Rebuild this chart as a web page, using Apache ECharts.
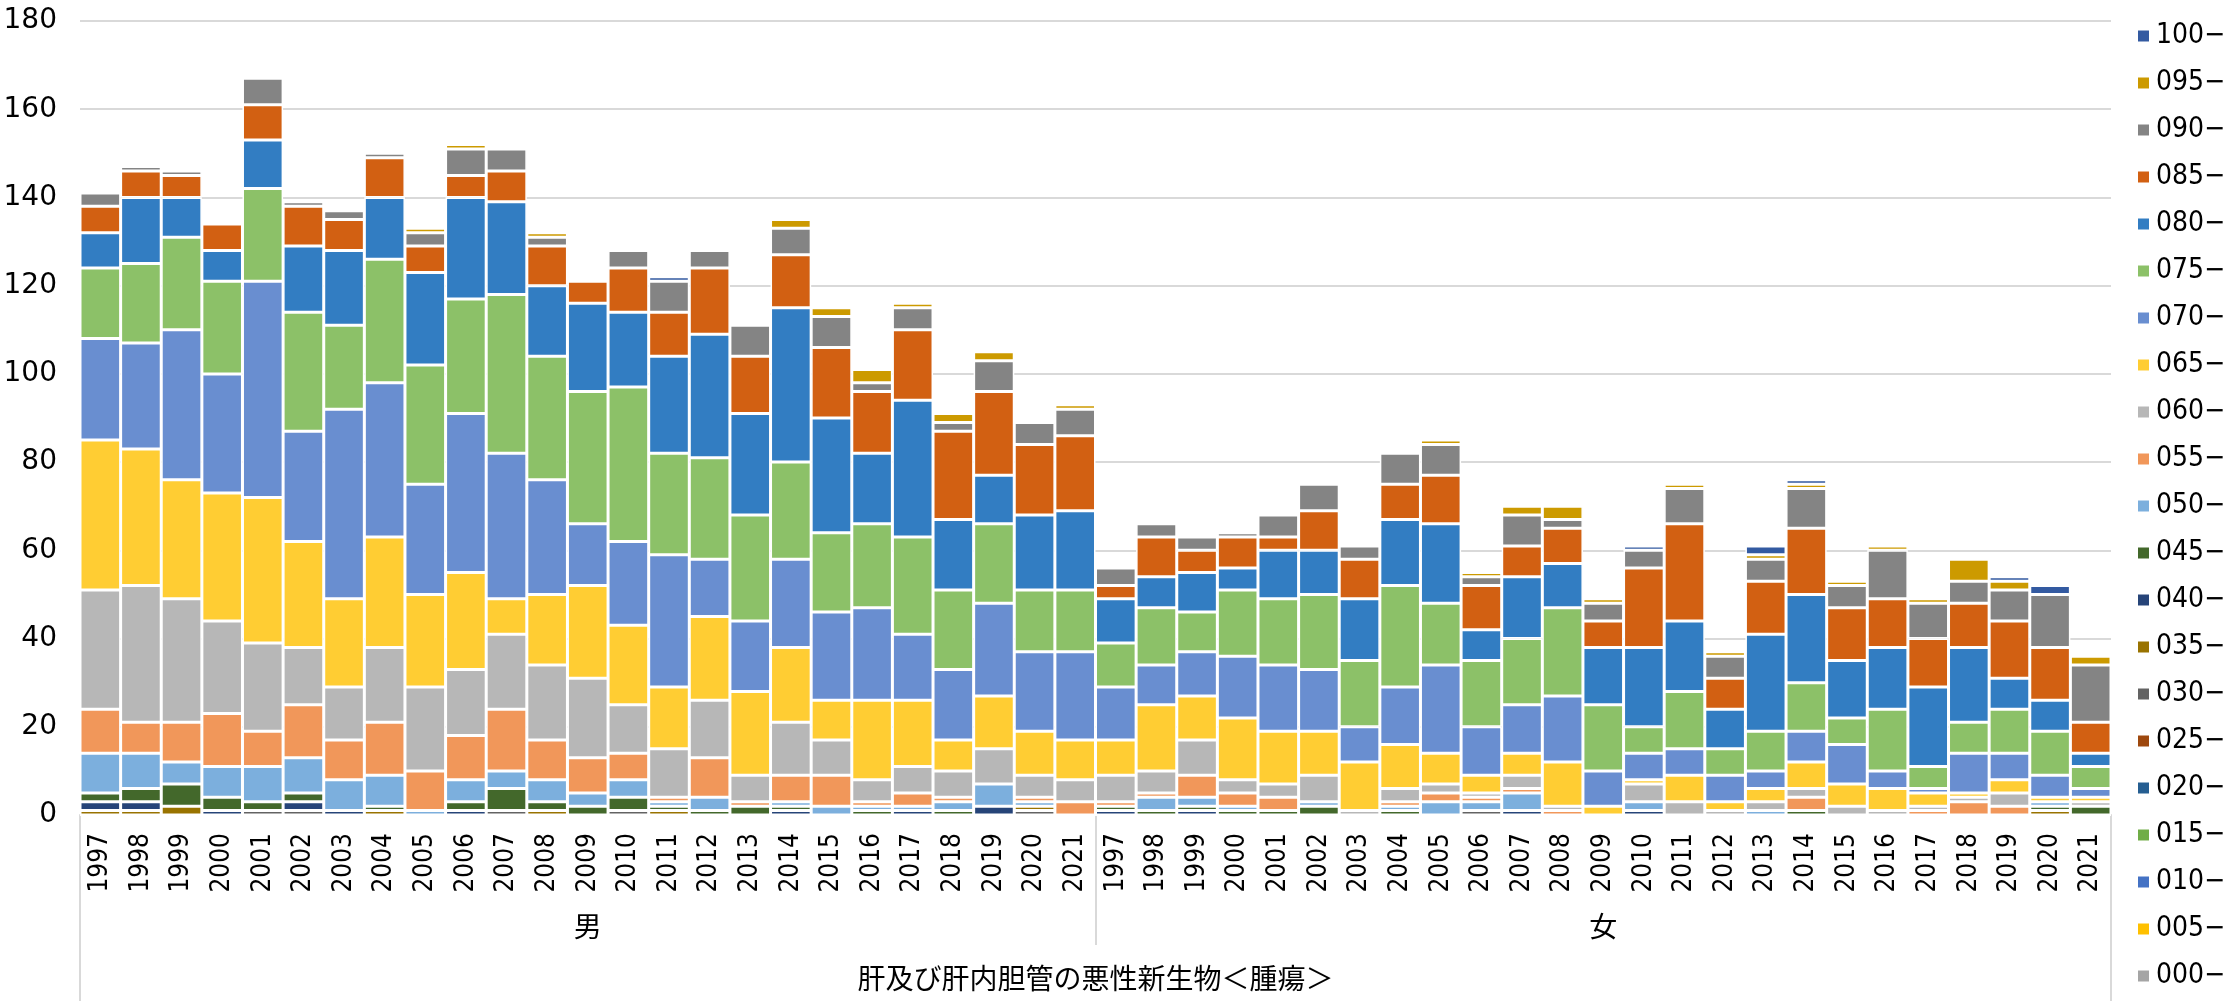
<!DOCTYPE html>
<html>
<head>
<meta charset="utf-8">
<script src="https://cdn.jsdelivr.net/npm/echarts@6/dist/echarts.min.js"></script>
<style>
  html, body { margin: 0; padding: 0; background: #fff; }
  #chart { width: 2223px; height: 1001px; }
</style>
</head>
<body>
<div id="chart"></div>
<script>
const years = ['1997','1998','1999','2000','2001','2002','2003','2004','2005','2006','2007','2008','2009',
  '2010','2011','2012','2013','2014','2015','2016','2017','2018','2019','2020','2021'];
const groups = ['男', '女'];
const diseaseName = '肝及び肝内胆管の悪性新生物＜腫瘍＞';
const ageGroups = ['000−','005−','010−','015−','020−','025−','030−','035−','040−','045−','050−',
  '055−','060−','065−','070−','075−','080−','085−','090−','095−','100−'];
const colors = ['#A5A5A5','#FFC000','#4472C4','#70AD47','#255E91','#9E480E','#636363','#997300','#264478','#43682B','#7CAFDD',
  '#F1975A','#B7B7B7','#FFCD33','#698ED0','#8CC168','#327DC2','#D26012','#848484','#CC9A00','#335AA1'];

// each array: 男 1997-2021, then 女 1997-2021
const s000 = [0,0,0,0,0,0,0,0,0,0,0,0,0,0,0,0,0,0,0,0,0,0,0,0,0, 0,0,0,0,0,0,0,0,0,0,0,0,0,0,0,0,0,0,0,0,0,0,0,0,0];
const s005 = [0,0,0,0,0,0,0,0,0,0,0,0,0,0,0,0,0,0,0,0,0,0,0,0,0, 0,0,0,0,0,0,0,0,0,0,0,0,0,0,0,0,0,0,0,0,0,0,0,0,0];
const s010 = [0,0,0,0,0,0,0,0,0,0,0,0,0,0,0,0,0,0,0,0,0,0,0,0,0, 0,0,0,0,0,0,0,0,0,0,0,0,0,0,0,0,0,0,0,0,0,0,0,0,0];
const s015 = [0,0,0,0,0,0,0,0,0,0,0,0,0,0,0,0,0,0,0,0,0,0,0,0,0, 0,0,0,0,0,0,0,0,0,0,0,0,0,0,0,0,0,0,0,0,0,0,0,0,0];
const s020 = [0,0,0,0,0,0,0,0,0,0,0,0,0,0,0,0,0,0,0,0,0,0,0,0,0, 0,0,0,0,0,0,0,0,0,0,0,0,0,0,0,0,0,0,0,0,0,0,0,0,0];
const s025 = [0,0,0,0,0,0,0,0,0,0,0,0,0,0,0,0,0,0,0,0,0,0,0,0,0, 0,0,0,0,0,0,0,0,0,0,0,0,0,0,0,0,0,0,0,0,0,0,0,0,0];
const s030 = [0,0,0,0,1,1,0,0,0,0,1,0,0,1,0,0,0,0,0,0,0,0,0,1,0, 0,0,0,0,0,0,0,0,0,1,0,0,0,0,0,0,0,0,0,0,0,0,0,0,0];
const s035 = [1,1,2,0,0,0,0,1,0,0,0,1,0,0,1,0,0,0,0,0,0,0,0,1,0, 0,0,0,0,0,0,0,0,0,0,0,0,0,0,0,0,0,0,0,0,0,0,0,1,0];
const s040 = [2,2,0,1,0,2,1,0,0,1,0,0,0,0,0,0,0,1,0,0,1,0,2,0,0, 1,0,1,0,0,0,0,0,0,0,1,0,0,1,0,0,0,0,0,0,0,0,0,0,0];
const s045 = [2,3,5,3,2,2,0,1,0,2,5,2,2,3,1,1,2,1,0,1,0,1,0,0,0, 1,1,1,1,1,2,0,1,0,0,0,0,0,0,0,0,0,1,0,0,0,0,0,1,2];
const s050 = [9,8,5,7,8,8,7,7,1,5,4,5,3,4,1,3,0,1,2,1,1,2,5,1,0, 0,3,2,1,0,1,0,1,3,2,4,0,0,2,0,0,1,0,0,0,0,0,0,1,0];
const s055 = [10,7,9,12,8,12,9,12,9,10,14,9,8,6,1,9,1,6,7,1,3,1,0,1,3, 1,1,5,3,3,0,0,1,2,1,1,1,0,0,0,0,0,3,0,0,1,3,2,0,0];
const s060 = [27,31,28,21,20,13,12,17,19,15,17,17,18,11,11,13,6,12,8,5,6,6,8,5,5, 6,5,8,3,3,6,1,3,2,1,3,1,0,4,3,1,2,2,2,1,1,1,3,0,1];
const s065 = [34,31,27,29,33,24,20,25,21,22,8,16,21,18,14,19,19,17,9,18,15,7,12,10,9, 8,15,10,14,12,10,11,10,7,4,5,10,2,1,6,2,3,6,5,5,3,1,3,1,1];
const s070 = [23,24,34,27,49,25,43,35,25,36,33,26,14,19,30,13,16,20,20,21,15,16,21,18,20, 12,9,10,14,15,14,8,13,20,11,11,15,8,6,6,6,4,7,9,4,1,9,6,5,2];
const s075 = [16,18,21,21,21,27,19,28,27,26,36,28,30,35,23,23,24,22,18,19,22,18,18,14,14, 10,13,9,15,15,17,15,23,14,15,15,20,15,6,13,6,9,11,6,14,5,7,10,10,5];
const s080 = [8,15,9,7,11,15,17,14,21,23,21,16,20,17,22,28,23,35,26,16,31,16,11,17,18, 10,7,9,5,11,10,14,15,18,7,14,10,13,18,16,9,22,20,13,14,18,17,7,7,3];
const s085 = [6,6,5,6,8,9,7,9,6,5,7,9,5,10,10,15,13,12,16,14,16,20,19,16,17, 3,9,5,7,3,9,9,8,11,10,7,8,6,18,22,7,12,15,12,11,11,10,13,12,7];
const s090 = [3,1,1,0,6,1,2,1,3,6,5,2,0,4,7,4,7,6,7,2,5,2,7,5,6, 4,3,3,1,5,6,3,7,7,2,7,2,4,4,8,5,5,9,5,11,8,5,7,12,13];
const s095 = [0,0,0,0,0,0,0,0,1,1,0,1,0,0,0,0,0,2,2,3,1,2,2,0,1, 0,0,0,0,0,0,0,0,1,1,2,3,1,0,1,1,1,1,1,1,1,5,2,0,2];
const s100 = [0,0,0,0,0,0,0,0,0,0,0,0,0,0,1,0,0,0,0,0,0,0,0,0,0, 0,0,0,0,0,0,0,0,0,0,0,0,0,1,0,0,2,1,0,0,0,0,1,2,0];

const seriesData = [s000,s005,s010,s015,s020,s025,s030,s035,s040,s045,s050,
  s055,s060,s065,s070,s075,s080,s085,s090,s095,s100];
const categories = years.concat(years);

const narrow = "'Liberation Sans Narrow', 'DejaVu Sans Condensed', sans-serif";
const cjk = "'Noto Sans CJK JP', sans-serif";
const lineGray = '#D9D9D9';

const chart = echarts.init(document.getElementById('chart'));

chart.setOption({
  animation: false,
  color: colors,
  grid: { left: 80, right: 112, top: 21, bottom: 186, containLabel: false },
  legend: {
    orient: 'vertical',
    left: 2133,
    top: 16,
    itemWidth: 11,
    itemHeight: 11,
    itemGap: 17,
    icon: 'rect',
    itemStyle: { borderWidth: 0 },
    data: ageGroups.slice().reverse(),
    textStyle: { fontFamily: narrow, fontSize: 28, lineHeight: 30, color: '#000', padding: [0, 0, 0, 2] }
  },
  xAxis: [
    {
      type: 'category',
      data: categories,
      axisLine: { lineStyle: { color: lineGray, width: 2 } },
      axisTick: { show: false },
      axisLabel: { interval: 0, rotate: 90, margin: 18, fontFamily: narrow, fontSize: 26, color: '#000' }
    },
    {
      type: 'category',
      data: groups,
      position: 'bottom',
      axisLine: { show: false },
      axisTick: { show: true, length: 130, lineStyle: { color: lineGray, width: 2 } },
      axisLabel: { margin: 97, fontFamily: cjk, fontSize: 28, color: '#000' }
    },
    {
      type: 'category',
      data: [diseaseName],
      position: 'bottom',
      axisLine: { show: false },
      axisTick: { show: true, length: 186, lineStyle: { color: lineGray, width: 2 } },
      axisLabel: { margin: 149, fontFamily: cjk, fontSize: 28, color: '#000' }
    }
  ],
  yAxis: {
    type: 'value',
    min: 0,
    max: 180,
    interval: 20,
    axisLine: { show: false },
    axisTick: { show: false },
    splitLine: { lineStyle: { color: lineGray, width: 2 } },
    axisLabel: { margin: 23, fontFamily: "'DejaVu Sans', sans-serif", fontSize: 28, color: '#000' }
  },
  series: ageGroups.map((name, i) => ({
    name: name,
    type: 'bar',
    stack: 'total',
    barCategoryGap: '0%',
    data: seriesData[i],
    itemStyle: { color: colors[i], borderColor: '#fff', borderWidth: 1.5 }
  }))
});
</script>
</body>
</html>
